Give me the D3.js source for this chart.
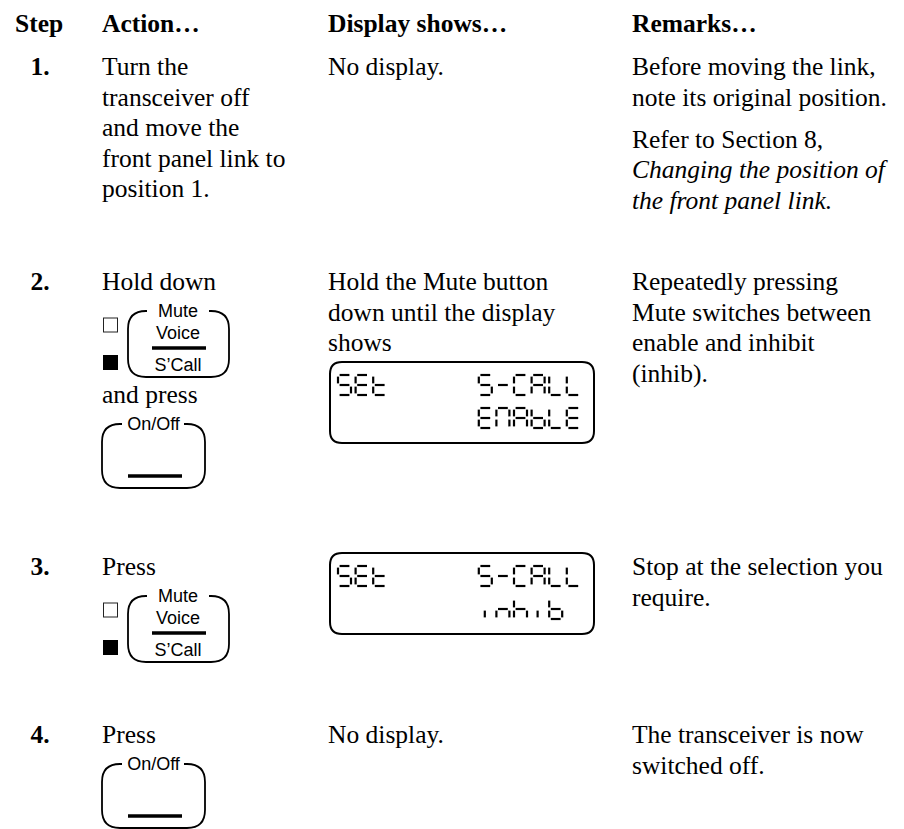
<!DOCTYPE html>
<html><head><meta charset="utf-8">
<script src="https://cdn.jsdelivr.net/npm/d3@7"></script>
<style>body{margin:0;background:#fff}</style>
</head><body><svg id="c" width="904" height="829"></svg>
<script>
// ---------- data ----------
const headers = ["Step", "Action…", "Display shows…", "Remarks…"];
const steps = ["1.", "2.", "3.", "4."];
const actions = [
  [{t:"Turn the"},{t:"transceiver off"},{t:"and move the"},{t:"front panel link to"},{t:"position 1."}],
  [{t:"Hold down"},{btn:"mute"},{t:"and press"},{btn:"onoff"}],
  [{t:"Press"},{btn:"mute"}],
  [{t:"Press"},{btn:"onoff"}]
];
const displays = [
  [{t:"No display."}],
  [{t:"Hold the Mute button"},{t:"down until the display"},{t:"shows"},{lcd:["SEt     S-CALL","        ENAbLE"]}],
  [{lcd:["SEt     S-CALL","        inhib"]}],
  [{t:"No display."}]
];
const remarks = [
  [{t:"Before moving the link,"},{t:"note its original position."},{gap:true},{t:"Refer to Section 8,"},{t:"Changing the position of",it:true},{t:"the front panel link.",it:true}],
  [{t:"Repeatedly pressing"},{t:"Mute switches between"},{t:"enable and inhibit"},{t:"(inhib)."}],
  [{t:"Stop at the selection you"},{t:"require."}],
  [{t:"The transceiver is now"},{t:"switched off."}]
];
const muteLabels = ["Mute", "Voice", "S\u2019Call"];
const onoffLabel = "On/Off";
// seven-segment glyph table
const segGlyphs = {
  "S":"afgcd","E":"afged","t":"fegd","-":"g","C":"afed","A":"abcefg","L":"fed",
  "N":"abcef","b":"fegcd","i":"m","n":"egc","h":"fegc"
};

// ---------- layout ----------
const svg = d3.select("#c");
const serif = "'Liberation Serif','Times New Roman',serif";
const sans = "'Liberation Sans',Arial,sans-serif";
const FS = 25.5, LH = 30.5;

const colX = d3.scaleOrdinal().domain(["step","action","display","remarks"]).range([40, 102, 328, 632]);
const rowY = d3.scaleOrdinal().domain(steps).range([75, 290, 575, 743]);
const headerY = 32;

svg.selectAll("text.hdr").data(headers).join("text").attr("class","hdr")
  .attr("x",(d,i)=> i===0 ? 15 : colX.range()[i])
  .attr("y",headerY).attr("font-family",serif).attr("font-weight","bold")
  .attr("font-size",FS).text(d=>d);

svg.selectAll("text.step").data(steps).join("text").attr("class","step")
  .attr("x",colX("step")).attr("y",d=>rowY(d)).attr("text-anchor","middle")
  .attr("font-family",serif).attr("font-weight","bold").attr("font-size",FS).text(d=>d);

function roundedGapPath(x0, y0, w, h, r, gL, gR){
  const p = d3.path();
  const x1 = x0 + w, y1 = y0 + h;
  p.moveTo(gL, y0);
  p.lineTo(x0 + r, y0);
  p.quadraticCurveTo(x0, y0, x0, y0 + r);
  p.lineTo(x0, y1 - r);
  p.quadraticCurveTo(x0, y1, x0 + r, y1);
  p.lineTo(x1 - r, y1);
  p.quadraticCurveTo(x1, y1, x1, y1 - r);
  p.lineTo(x1, y0 + r);
  p.quadraticCurveTo(x1, y0, x1 - r, y0);
  p.lineTo(gR, y0);
  return p.toString();
}

function drawMute(g, x0, top){
  g.append("rect").attr("x",x0+1.5).attr("y",top+7).attr("width",14).attr("height",14)
    .attr("fill","#fff").attr("stroke","#222").attr("stroke-width",1);
  g.append("rect").attr("x",x0+1).attr("y",top+44).attr("width",15).attr("height",15).attr("fill","#000");
  g.append("path").attr("d",roundedGapPath(x0+26, top, 101, 66, 18, x0+45, x0+107))
    .attr("fill","none").attr("stroke","#000").attr("stroke-width",1.8);
  const cx = x0 + 76;
  g.selectAll("text.ml").data(muteLabels).join("text").attr("class","ml")
    .attr("x",cx).attr("y",(d,i)=> top + [6,28,60][i]).attr("text-anchor","middle")
    .attr("font-family",sans).attr("font-size",18).text(d=>d);
  g.append("line").attr("x1",x0+50).attr("x2",x0+104).attr("y1",top+37).attr("y2",top+37)
    .attr("stroke","#000").attr("stroke-width",3.5);
  return 66;
}
function drawOnOff(g, x0, top){
  g.append("path").attr("d",roundedGapPath(x0, top, 103, 64, 18, x0+20, x0+82))
    .attr("fill","none").attr("stroke","#000").attr("stroke-width",1.8);
  g.append("text").attr("x",x0+51.5).attr("y",top+6).attr("text-anchor","middle")
    .attr("font-family",sans).attr("font-size",18).text(onoffLabel);
  g.append("line").attr("x1",x0+26).attr("x2",x0+80).attr("y1",top+52).attr("y2",top+52)
    .attr("stroke","#000").attr("stroke-width",3.5);
  return 64;
}
function segLines(ch, x0, y0){
  const w = 13, h = 20, gp = 1.6, m = h/2;
  const S = {
    a:[x0+gp,y0,x0+w-gp,y0], b:[x0+w,y0+gp,x0+w,y0+m-gp], c:[x0+w,y0+m+gp,x0+w,y0+h-gp],
    d:[x0+gp,y0+h,x0+w-gp,y0+h], e:[x0,y0+m+gp,x0,y0+h-gp], f:[x0,y0+gp,x0,y0+m-gp],
    g:[x0+gp,y0+m,x0+w-gp,y0+m], m:[x0+6,y0+m+gp,x0+6,y0+h-gp]
  };
  return (segGlyphs[ch]||"").split("").map(k=>S[k]);
}
function drawLCD(g, x0, top, rows){
  g.append("path").attr("d",roundedGapPath(x0+2, top, 264, 81, 12, x0+100, x0+100))
    .attr("fill","none").attr("stroke","#000").attr("stroke-width",2);
  const colScale = d3.scaleLinear().domain([0,1]).range([x0+10, x0+27.6]);
  rows.forEach((row, ri)=>{
    const y0 = top + 13 + ri*33;
    const segs = [];
    row.split("").forEach((ch, ci)=>{ segLines(ch, colScale(ci), y0).forEach(s=>segs.push(s)); });
    g.selectAll(null).data(segs).join("line")
      .attr("x1",d=>d[0]).attr("y1",d=>d[1]).attr("x2",d=>d[2]).attr("y2",d=>d[3])
      .attr("stroke","#000").attr("stroke-width",2.2);
  });
  g.append("title").text(rows.map(r=>r.trim()).join(" / "));
  return 81;
}

function flow(items, col, step){
  const g = svg.append("g");
  const x0 = colX(col);
  let base = rowY(step);
  let first = true;
  let nextTop = null;
  items.forEach(it=>{
    if (it.t !== undefined){
      if (!first) base = (nextTop !== null) ? nextTop : base + LH;
      g.append("text").attr("x",x0).attr("y",base).attr("font-family",serif)
        .attr("font-size",FS).attr("font-style",it.it?"italic":"normal").text(it.t);
      nextTop = null; first = false;
    } else if (it.gap){
      base += 11.5;
    } else if (it.btn){
      const top = first ? base - 18 : base + 21;
      const h = it.btn === "mute" ? drawMute(g, x0, top) : drawOnOff(g, x0, top);
      nextTop = top + h + 26; first = false;
    } else if (it.lcd){
      const top = first ? base - 22 : base + 11;
      const h = drawLCD(g, x0, top, it.lcd);
      nextTop = top + h + 26; first = false;
    }
  });
}
steps.forEach((s,i)=>{
  flow(actions[i], "action", s);
  flow(displays[i], "display", s);
  flow(remarks[i], "remarks", s);
});
</script></body></html>
